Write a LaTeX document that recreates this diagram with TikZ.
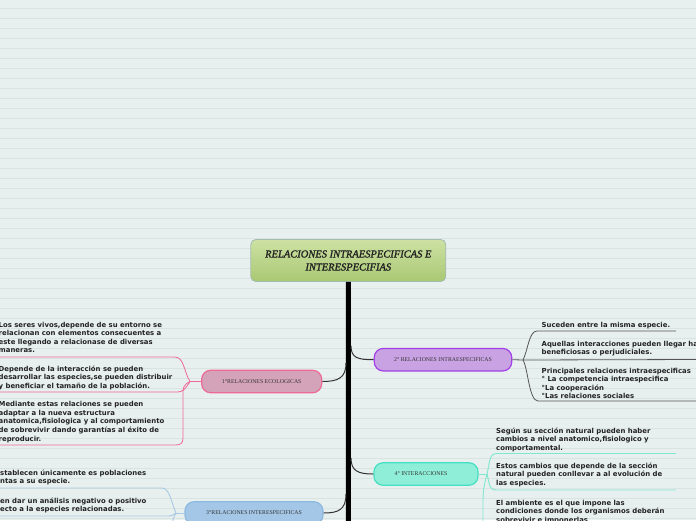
\documentclass[tikz,border=0pt]{standalone}
\usepackage{fontspec}
\newfontfamily\subfont{DejaVu Sans}
\newfontfamily\labfont{Liberation Serif}
\newfontfamily\titlefont{Liberation Serif}[ItalicFeatures={FakeBold=1.6}]
\definecolor{bgc}{HTML}{E8F0EF}
\definecolor{rulec}{HTML}{D9E4E1}
\definecolor{ctop}{HTML}{CDE1A3}
\definecolor{cbot}{HTML}{A9C873}
\definecolor{cbord}{HTML}{A3BCB0}
\definecolor{pinkf}{HTML}{D4A3B9}
\definecolor{pinkd}{HTML}{EE6A96}
\definecolor{purf}{HTML}{C9A2E3}
\definecolor{purd}{HTML}{A23FE6}
\definecolor{bluef}{HTML}{A4C7E7}
\definecolor{blued}{HTML}{8DB9E0}
\definecolor{mintf}{HTML}{8FEED8}
\definecolor{mintd}{HTML}{45DFC2}
\definecolor{mintl}{HTML}{7FE6D0}
\definecolor{bluel}{HTML}{A9C9E2}
\definecolor{grayl}{HTML}{555555}
\definecolor{txt}{HTML}{222222}
\tikzset{
  central/.style={draw=cbord, line width=0.8pt, rounded corners=5pt, minimum width=195pt, minimum height=42pt,
    top color=ctop, bottom color=cbot, align=center, inner sep=0pt,
    font=\titlefont\itshape\fontsize{10.5}{13}\selectfont, text=txt},
  topic/.style={rounded corners=9pt, line width=1.2pt, minimum height=22.5pt, inner sep=0pt,
    font=\labfont\fontsize{5.8}{7}\selectfont, text=black!80},
  sub/.style={anchor=base west, align=left, inner sep=0pt,
    font=\subfont\bfseries\fontsize{6.9}{8.6}\selectfont, text=txt},
  trunk/.style={line width=5pt, draw=black},
  conn/.style={draw=black!80, line width=1pt},
  pinkline/.style={draw=pinkd, line width=0.8pt},
  grayline/.style={draw=grayl, line width=0.8pt},
  mintline/.style={draw=mintl, line width=0.9pt},
  blueline/.style={draw=bluel, line width=0.9pt},
}
\begin{document}
\begin{tikzpicture}[x=1pt,y=-1pt]
\path[use as bounding box, clip] (0,0) rectangle (696,520);
\fill[bgc] (0,0) rectangle (696,520);
\foreach \y in {8.3,18.3,...,518.3} \draw[rulec, line width=0.8pt] (0,\y) -- (696,\y);

% central
\node[central] (c) at (348.3,260.5) {RELACIONES INTRAESPECIFICAS E\\INTERESPECIFIAS};
\coordinate (tend) at (348.5,530);
\draw[trunk] (c.south) -- (tend);

% topics
\node[topic, fill=pinkf, draw=pinkd, minimum width=120pt] (n1) at (261.7,381.5) {1°RELACIONES ECOLOGICAS};
\node[topic, fill=purf, draw=purd, minimum width=137.5pt] (n2) at (443,359.7) {2° RELACIONES INTRAESPECIFICAS};
\node[topic, fill=bluef, draw=blued, minimum width=138pt] (n3) at (254,513) {3°RELACIONES INTERESPECIFICAS};
\node[topic, fill=mintf, draw=mintd, minimum width=104pt] (n4) at (426,474) {4° INTERACCIONES\hspace*{10pt}};

% trunk connectors
\coordinate (t1) at (346,363);
\coordinate (t2) at (351,346);
\coordinate (t3) at (346,494);
\coordinate (t4) at (351,458);
\draw[conn] (t1) .. controls (346,378) and (338,381.5) .. (n1.east);
\draw[conn] (t2) .. controls (351,358) and (358,359.7) .. (n2.west);
\draw[conn] (t3) .. controls (346,510) and (338,513) .. (n3.east);
\draw[conn] (t4) .. controls (351,471) and (358,474) .. (n4.west);

% group 1
\coordinate (j1) at (190,381.5);
\draw[pinkline] (n1.west) -- (j1);
\draw[pinkline] (j1) .. controls (184,372) and (184,357) .. (175,357) -- (-1,357);
\draw[pinkline] (j1) .. controls (185,389) and (184,392) .. (176,392) -- (-1,392);
\draw[pinkline] (j1) .. controls (183,385) and (183,388) .. (183,395) -- (183,438) .. controls (183,444) and (180,445) .. (175,445) -- (-1,445);
\node[sub] (s11) at (-1.5,352.8) {Los seres vivos,depende de su entorno se\\relacionan con elementos consecuentes a\\este llegando a relacionase de diversas\\maneras.};
\node[sub] (s12) at (-1.5,388.2) {Depende de la interacción se pueden\\desarrollar las especies,se pueden distribuir\\y beneficiar el tamaño de la población.};
\node[sub] (s13) at (-1.5,441.1) {Mediante estas relaciones se pueden\\adaptar a la nueva estructura\\anatomica,fisiologica y al comportamiento\\de sobrevivir dando garantías al éxito de\\reproducir.};

% group 2
\coordinate (j2) at (523,360);
\draw[grayline] (n2.east) -- (j2);
\draw[grayline] (j2) .. controls (528,350) and (529,331) .. (537,331) -- (676,331);
\draw[grayline] (j2) -- (697,359.5);
\draw[grayline] (j2) .. controls (528,368) and (529,401) .. (538,401) -- (697,401);
\node[sub] (s21) at (541.5,327) {Suceden entre la misma especie.};
\node[sub] (s22) at (541.5,354.6) {Aquellas interacciones pueden llegar ha\\beneficiosas o perjudiciales.};
\node[sub] (s23) at (541.5,398.8) {Principales relaciones intraespecificas\\° La competencia intraespecifica\\°La cooperación\\°Las relaciones sociales};

% group 4
\coordinate (j4) at (487,474);
\draw[mintline] (n4.east) -- (j4);
\draw[mintline] (j4) .. controls (490,462) and (489,453.5) .. (497,453.5) -- (676,453.5);
\draw[mintline] (j4) .. controls (490,486) and (489,490) .. (497,490) -- (676,490);
\draw[mintline] (j4) .. controls (484,485) and (483,492) .. (483,500) -- (483,528);
\node[sub] (s41) at (496,450.2) {Según su sección natural pueden haber\\cambios a nivel anatomico,fisiologico y\\comportamental.};
\node[sub] (s42) at (496,485.5) {Estos cambios que depende de la sección\\natural pueden conllevar a al evolución de\\las especies.};
\node[sub] (s43) at (496,522.2) {El ambiente es el que impone las\\condiciones donde los organismos deberán\\sobrevivir e imponerlas};

% group 3
\coordinate (j3) at (176,513);
\draw[blueline] (n3.west) -- (j3);
\draw[blueline] (j3) .. controls (172,505) and (170,488) .. (162,488) -- (-1,488);
\draw[blueline] (j3) .. controls (173,515) and (172,516) .. (168,516) -- (-1,516);
\draw[blueline] (j3) .. controls (173,518) and (172,522) .. (172,528);
\node[sub] (s31) at (0,483.6) {stablecen únicamente es poblaciones\\ntas a su especie.};
\node[sub] (s32) at (0,511.6) {en dar un análisis negativo o positivo\\ecto a la especies relacionadas.};
\end{tikzpicture}
\end{document}
